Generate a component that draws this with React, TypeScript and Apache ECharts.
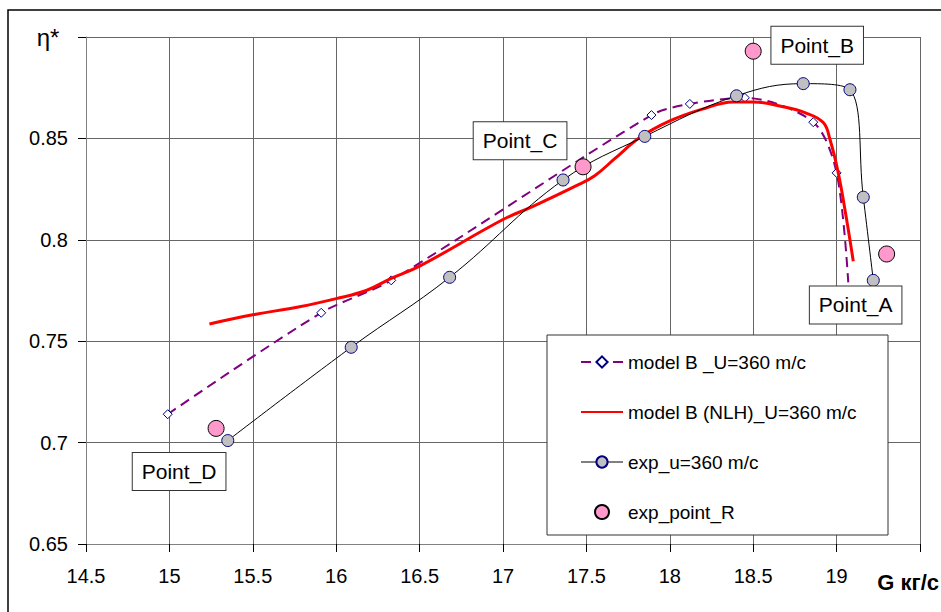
import React, { useEffect, useRef } from "react";
import * as echarts from "echarts";

// ---- data ----
const modelB: [number, number][] = [
  [14.99, 0.714], [15.91, 0.764], [16.33, 0.78], [17.89, 0.8615], [18.12, 0.867],
  [18.45, 0.87], [18.86, 0.858], [19.0, 0.833], [19.07, 0.779],
];
const modelBNLH: [number, number][] = [
  [15.24, 0.7585], [15.5, 0.763], [15.78, 0.767], [16.0, 0.771], [16.18, 0.775],
  [16.33, 0.781], [16.5, 0.787], [17.0, 0.81], [17.18, 0.8165], [17.44, 0.8267],
  [17.55, 0.8316], [17.67, 0.84], [17.82, 0.8504], [18.0, 0.8586], [18.19, 0.8643],
  [18.38, 0.868], [18.5, 0.868], [18.68, 0.8656], [18.81, 0.8627], [18.92, 0.8578],
  [18.96, 0.8496], [19.01, 0.833], [19.06, 0.81], [19.1, 0.7894],
];
const expU: [number, number][] = [
  [15.35, 0.701], [16.09, 0.747], [16.68, 0.7815], [17.36, 0.8295], [17.85, 0.851],
  [18.4, 0.871], [18.8, 0.877], [19.08, 0.874], [19.16, 0.821], [19.22, 0.78],
];
const expPointR: [number, number][] = [
  [15.28, 0.707], [17.48, 0.836], [18.5, 0.893], [19.3, 0.793],
];
const pointLabels = ["Point_D", "Point_C", "Point_B", "Point_A"];
const pointLabelOffsets: [number, number][] = [[-37, 43], [-63, -26], [64, -6], [-31, 51]];
const seriesNames = [
  "model B _U=360 m/c",
  "model B (NLH)_U=360 m/c",
  "exp_u=360 m/c",
  "exp_point_R",
];
const xMin = 14.5, xMax = 19.5, xStep = 0.5;
const yMin = 0.65, yMax = 0.9, yStep = 0.05;
const xTitle = "G кг/с";
const yTitle = "η*";

const FONT = "'Liberation Sans', Arial, sans-serif";

export default function App() {
  const ref = useRef<HTMLDivElement>(null);
  useEffect(() => {
    if (!ref.current) return;
    const chart = echarts.init(ref.current, undefined, { renderer: "svg" });
    const lastIdx = modelB.length - 1;
    chart.setOption({
      animation: false,
      backgroundColor: "#fff",
      grid: { left: 86, right: 21, top: 37, bottom: 68, containLabel: false },
      xAxis: {
        type: "value",
        min: xMin,
        max: xMax,
        interval: xStep,
        axisLine: { show: true, lineStyle: { color: "#808080", width: 1 } },
        axisTick: { show: true, length: 8, inside: false, lineStyle: { color: "#000" } },
        axisLabel: {
          margin: 22,
          color: "#000",
          fontSize: 20,
          fontFamily: FONT,
          formatter: (v: number) => (Math.abs(v - xMax) < 1e-9 ? "" : String(parseFloat(v.toFixed(2)))),
        },
        splitLine: { show: true, lineStyle: { color: "#666", width: 1 } },
      },
      yAxis: {
        type: "value",
        min: yMin,
        max: yMax,
        interval: yStep,
        axisLine: { show: true, lineStyle: { color: "#808080", width: 1 } },
        axisTick: { show: true, length: 8, inside: false, lineStyle: { color: "#000" } },
        axisLabel: {
          margin: 18,
          color: "#000",
          fontSize: 20,
          fontFamily: FONT,
          formatter: (v: number) => (Math.abs(v - yMax) < 1e-9 ? "" : String(parseFloat(v.toFixed(2)))),
        },
        splitLine: { show: true, lineStyle: { color: "#666", width: 1 } },
      },
      legend: {
        orient: "vertical",
        left: 580,
        top: 352,
        padding: 0,
        itemWidth: 42,
        itemHeight: 14,
        itemGap: 30,
        textStyle: { fontFamily: FONT, fontSize: 19, color: "#000", lineHeight: 20 },
        data: [
          { name: seriesNames[0] },
          { name: seriesNames[1], itemStyle: { opacity: 0 } },
          { name: seriesNames[2], lineStyle: { color: "#808080" } },
          { name: seriesNames[3] },
        ],
        z: 6,
      },
      graphic: [
        {
          type: "rect",
          shape: { x: 8, y: 10, width: 940, height: 610 },
          style: { fill: "none", stroke: "#000", lineWidth: 1.5 },
          z: 1,
          silent: true,
        },
        {
          type: "rect",
          shape: { x: 547, y: 335, width: 341, height: 200 },
          style: { fill: "#fff", stroke: "#333", lineWidth: 1 },
          z: 5,
          silent: true,
        },
        {
          type: "text",
          x: 48,
          y: 37,
          style: {
            text: yTitle,
            fontFamily: FONT,
            fontSize: 24,
            fill: "#000",
            align: "center",
            verticalAlign: "middle",
          },
        },
        {
          type: "text",
          x: 939,
          y: 582,
          style: {
            text: xTitle,
            fontFamily: FONT,
            fontSize: 22,
            fontWeight: "bold",
            fill: "#000",
            align: "right",
            verticalAlign: "middle",
          },
        },
      ],
      series: [
        {
          name: seriesNames[0],
          type: "line",
          smooth: 0.3,
          data: modelB.map((p, i) =>
            i === lastIdx ? { value: p, symbol: "none" } : { value: p }
          ),
          symbol: "diamond",
          symbolSize: 9,
          showAllSymbol: true,
          lineStyle: { color: "#800080", width: 2, type: [10, 6] },
          itemStyle: { color: "#fff", borderColor: "#000080", borderWidth: 1 },
          z: 2,
        },
        {
          name: seriesNames[1],
          type: "line",
          smooth: 0.4,
          data: modelBNLH,
          symbol: "none",
          lineStyle: { color: "#ff0000", width: 3 },
          itemStyle: { color: "#ff0000" },
          z: 3,
        },
        {
          name: seriesNames[2],
          type: "line",
          smooth: 0.4,
          data: expU,
          symbol: "circle",
          symbolSize: 12,
          showAllSymbol: true,
          lineStyle: { color: "#000", width: 1 },
          itemStyle: { color: "#c0c0c0", borderColor: "#000080", borderWidth: 1 },
          z: 4,
        },
        {
          name: seriesNames[3],
          type: "scatter",
          symbol: "circle",
          symbolSize: 16,
          itemStyle: { color: "#ff99cc", borderColor: "#000", borderWidth: 1, opacity: 1 },
          data: expPointR.map((p, i) => ({
            value: p,
            label: {
              show: true,
              position: "inside",
              formatter: pointLabels[i],
              offset: pointLabelOffsets[i],
              fontFamily: FONT,
              fontSize: 21,
              lineHeight: 25,
              color: "#000",
              backgroundColor: "#fff",
              borderColor: "#333",
              borderWidth: 1,
              padding: [6, 9, 6, 9],
            },
          })),
          z: 7,
        },
      ],
    });
    return () => chart.dispose();
  }, []);
  return (
    <div
      ref={ref}
      style={{ position: "fixed", left: 0, top: 0, width: 941, height: 612, background: "#fff" }}
    />
  );
}
